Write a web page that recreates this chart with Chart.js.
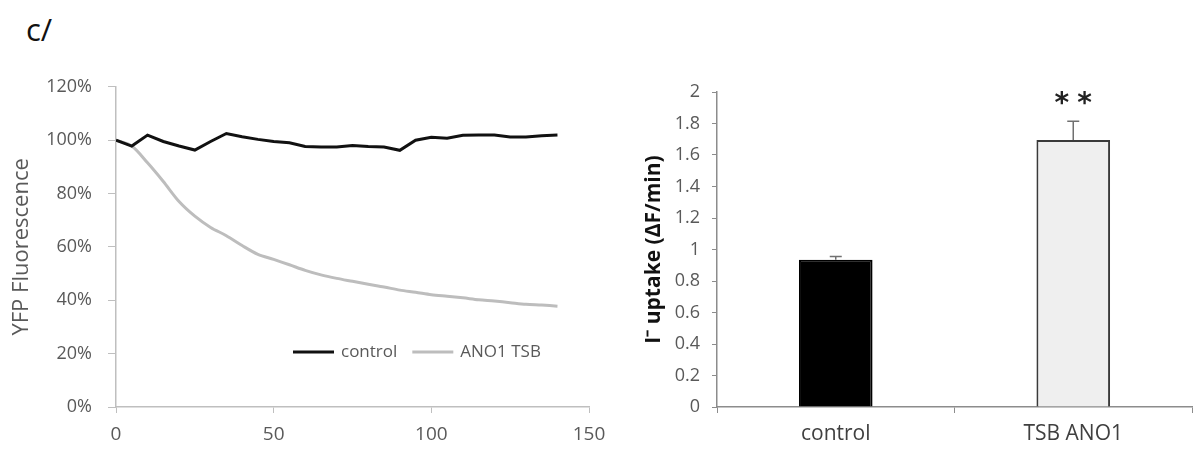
<!DOCTYPE html>
<html>
<head>
<meta charset="utf-8">
<script src="https://cdn.jsdelivr.net/npm/chart.js@4.4.1/dist/chart.umd.min.js"></script>
<style>
  body { margin: 0; background: #fff; width: 1193px; height: 457px; overflow: hidden; position: relative; font-family: "Open Sans", sans-serif; }
  #panel-label { position: absolute; left: 26px; top: 8px; font-size: 31px; color: #111; }
  #left-wrap { position: absolute; left: 0; top: 60px; width: 620px; height: 397px; }
  #right-wrap { position: absolute; left: 600px; top: 60px; width: 593px; height: 397px; }
</style>
</head>
<body>
<div id="panel-label">c/</div>
<div id="left-wrap"><canvas id="trace-chart"></canvas></div>
<div id="right-wrap"><canvas id="uptake-chart"></canvas></div>
<script>
// time course (s) and YFP fluorescence (% of start)
const timePoints = [0, 5, 10, 15, 20, 25, 30, 35, 40, 45, 50, 55, 60, 65, 70, 75, 80, 85, 90, 95, 100, 105, 110, 115, 120, 125, 130, 135, 140];
const controlValues = [100, 97.8, 101.9, 99.5, 97.8, 96.3, 99.5, 102.5, 101.3, 100.3, 99.5, 99, 97.6, 97.4, 97.4, 98, 97.6, 97.4, 96.2, 100, 101.1, 100.7, 101.8, 101.9, 101.9, 101.2, 101.2, 101.7, 101.9];
const anoValues = [100, 97.8, 91.5, 84.5, 77, 71.5, 67.3, 64.2, 60.5, 57.2, 55.3, 53.3, 51.2, 49.5, 48.2, 47.1, 46, 45, 43.8, 43, 42.1, 41.5, 40.9, 40.2, 39.7, 39.1, 38.5, 38.2, 37.8];
const traceLabels = ['control', 'ANO1 TSB'];

// iodide uptake bars
const barCategories = ['control', 'TSB ANO1'];
const barValues = [0.935, 1.695];
const barErrors = [0.02, 0.12];
const significance = ['', '**'];

const textGray = '#595959';
const FONT = 'Open Sans';

const insideLegend = {
  id: 'insideLegend',
  afterDatasetsDraw(chart) {
    const { ctx } = chart;
    const y = 292;
    let x = 293;
    ctx.save();
    ctx.font = `17px "${FONT}"`;
    ctx.textBaseline = 'middle';
    ctx.textAlign = 'left';
    chart.data.datasets.forEach(ds => {
      ctx.strokeStyle = ds.borderColor;
      ctx.lineWidth = ds.borderWidth;
      ctx.beginPath();
      ctx.moveTo(x, y);
      ctx.lineTo(x + 41, y);
      ctx.stroke();
      x += 48;
      ctx.fillStyle = textGray;
      ctx.fillText(ds.label, x, y);
      x += ctx.measureText(ds.label).width + 15;
    });
    ctx.restore();
  }
};

const errorBars = {
  id: 'errorBars',
  afterDatasetsDraw(chart) {
    const { ctx } = chart;
    const yScale = chart.scales.y;
    const meta = chart.getDatasetMeta(0);
    ctx.save();
    meta.data.forEach((bar, i) => {
      const top = yScale.getPixelForValue(barValues[i] + barErrors[i]);
      const base = yScale.getPixelForValue(barValues[i]);
      ctx.strokeStyle = '#707070';
      ctx.lineWidth = 1.5;
      ctx.beginPath();
      ctx.moveTo(bar.x, base);
      ctx.lineTo(bar.x, top);
      ctx.moveTo(bar.x - 6, top);
      ctx.lineTo(bar.x + 6, top);
      ctx.stroke();
      if (significance[i]) {
        ctx.fillStyle = '#222';
        ctx.font = 'bold 28px "DejaVu Sans"';
        ctx.textAlign = 'center';
        ctx.textBaseline = 'middle';
        ctx.letterSpacing = '8px';
        ctx.fillText(significance[i], bar.x + 4, top - 16);
      }
    });
    ctx.restore();
  }
};

new Chart(document.getElementById('trace-chart'), {
  type: 'line',
  data: {
    datasets: [
      {
        label: traceLabels[0],
        data: timePoints.map((t, i) => ({ x: t, y: controlValues[i] })),
        borderColor: '#111111',
        borderWidth: 3,
        pointRadius: 0,
        tension: 0
      },
      {
        label: traceLabels[1],
        data: timePoints.map((t, i) => ({ x: t, y: anoValues[i] })),
        borderColor: '#bdbdbd',
        borderWidth: 3,
        pointRadius: 0,
        tension: 0.3
      }
    ]
  },
  options: {
    responsive: true,
    maintainAspectRatio: false,
    animation: false,
    layout: { padding: { left: 0, right: 31, top: 25, bottom: 0 } },
    plugins: { legend: { display: false }, tooltip: { enabled: false } },
    scales: {
      x: {
        type: 'linear',
        min: 0,
        max: 150,
        ticks: { stepSize: 50, color: textGray, font: { family: FONT, size: 19 }, padding: 10, maxRotation: 0 },
        grid: { drawOnChartArea: false, tickLength: 6, color: '#bfbfbf' },
        border: { color: '#bfbfbf', width: 1.5 },
        afterFit: scale => { scale.height = 50; }
      },
      y: {
        min: 0,
        max: 120,
        ticks: { stepSize: 20, color: textGray, font: { family: FONT, size: 18 }, padding: 16, callback: v => v + '%' },
        grid: { drawOnChartArea: false, tickLength: 8, color: '#bfbfbf' },
        border: { color: '#bfbfbf', width: 1.5 },
        title: { display: true, text: 'YFP Fluorescence', color: textGray, font: { family: FONT, size: 22 }, padding: { top: 9, bottom: 0 } },
        afterFit: scale => { scale.width = 116; }
      }
    }
  },
  plugins: [insideLegend]
});

new Chart(document.getElementById('uptake-chart'), {
  type: 'bar',
  data: {
    labels: barCategories,
    datasets: [{
      data: barValues,
      backgroundColor: ['#000000', '#efefef'],
      borderColor: ['#000000', '#3a3a3a'],
      borderWidth: 2,
      barPercentage: 0.31,
      categoryPercentage: 1
    }]
  },
  options: {
    responsive: true,
    maintainAspectRatio: false,
    animation: false,
    layout: { padding: { left: 0, right: 1, top: 32, bottom: 0 } },
    plugins: { legend: { display: false }, tooltip: { enabled: false } },
    scales: {
      x: {
        ticks: { color: '#404040', font: { family: FONT, size: 21 }, padding: 8 },
        grid: { drawOnChartArea: false, offset: true, tickLength: 6, color: '#8c8c8c' },
        border: { color: '#8c8c8c', width: 1.5 },
        afterFit: scale => { scale.height = 50; }
      },
      y: {
        min: 0,
        max: 2,
        ticks: { stepSize: 0.2, color: textGray, font: { family: FONT, size: 18 }, padding: 12, callback: v => String(Number(v.toFixed(1))) },
        grid: { drawOnChartArea: false, tickLength: 5, color: '#8c8c8c' },
        border: { color: '#8c8c8c', width: 1.5 },
        title: { display: true, text: 'I\u207B uptake (\u0394F/min)', color: '#111', font: { family: FONT, size: 21, weight: 'bold' }, padding: { top: 41, bottom: 0 } },
        afterFit: scale => { scale.width = 117; }
      }
    }
  },
  plugins: [errorBars]
});
</script>
</body>
</html>
